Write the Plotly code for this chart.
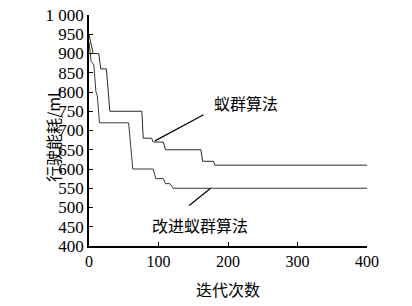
import plotly.graph_objects as go

# Data (iterations, energy consumption mL)
aco_x = [0, 6, 14, 17, 25, 30, 76, 78, 90, 92.5, 107, 110, 161, 163.5, 179, 181, 400]
aco_y = [950, 900, 900, 860, 860, 750, 750, 680, 680, 670, 670, 650, 650, 620, 620, 610, 610]

iaco_x = [0, 3, 7, 10, 12, 15, 57, 63, 92.5, 96, 107, 110, 116.5, 121, 400]
iaco_y = [930, 880, 870, 800, 790, 720, 720, 600, 600, 575, 575, 562, 562, 550, 550]

x_ticks = [0, 100, 200, 300, 400]
y_ticks = [400, 450, 500, 550, 600, 650, 700, 750, 800, 850, 900, 950, 1000]
y_tick_text = ["400", "450", "500", "550", "600", "650", "700", "750", "800", "850", "900", "950", "1 000"]

label_aco = "蚁群算法"
label_iaco = "改进蚁群算法"
x_title = "迭代次数"
y_title = "行驶能耗/mL"

serif = "Times New Roman"
cjk = "Noto Sans CJK SC"

fig = go.Figure()
fig.add_trace(go.Scatter(x=aco_x, y=aco_y, mode="lines",
                         line=dict(color="#2a2a2a", width=1), showlegend=False))
fig.add_trace(go.Scatter(x=iaco_x, y=iaco_y, mode="lines",
                         line=dict(color="#3a3a3a", width=1), showlegend=False))

axis_common = dict(showgrid=False, zeroline=False, showline=True, linecolor="black",
                   linewidth=1.5, ticks="inside", ticklen=4, tickwidth=1.2, automargin=False,
                   tickcolor="black")

fig.update_xaxes(range=[0, 400], tickvals=x_ticks,
                 tickfont=dict(family=serif, size=16, color="black"), **axis_common)
fig.update_yaxes(range=[400, 1000], tickvals=y_ticks, ticktext=y_tick_text,
                 tickfont=dict(family=serif, size=17, color="black"), **axis_common)

fig.add_annotation(x=226, y=771, xref="x", yref="y", text=label_aco, showarrow=False,
                   font=dict(family=cjk, size=16, color="black"))
fig.add_annotation(x=160, y=454, xref="x", yref="y", text=label_iaco, showarrow=False,
                   font=dict(family=cjk, size=16, color="black"))
# leader lines
fig.add_annotation(x=95, y=673, ax=167, ay=743, xref="x", yref="y", axref="x", ayref="y",
                   text="", showarrow=True, arrowhead=0, arrowwidth=1.2, arrowcolor="black")
fig.add_annotation(x=175, y=550, ax=142, ay=502, xref="x", yref="y", axref="x", ayref="y",
                   text="", showarrow=True, arrowhead=0, arrowwidth=1.2, arrowcolor="black")

# axis titles
fig.add_annotation(x=-0.18, y=0.48, xref="paper", yref="paper", text=y_title, textangle=-90,
                   showarrow=False, font=dict(family=cjk, size=16, color="black"))
fig.add_annotation(x=0.5, y=-0.184, xref="paper", yref="paper", text=x_title, yanchor="middle",
                   showarrow=False, font=dict(family=cjk, size=16, color="black"))

fig.update_layout(width=412, height=306, margin=dict(l=89, r=45, t=15, b=60),
                  font=dict(family=serif),
                  plot_bgcolor="white", paper_bgcolor="white")

fig.write_html("out.html", config={"displayModeBar": False},
               post_script="document.body.style.margin='0';document.body.style.overflow='hidden';")
